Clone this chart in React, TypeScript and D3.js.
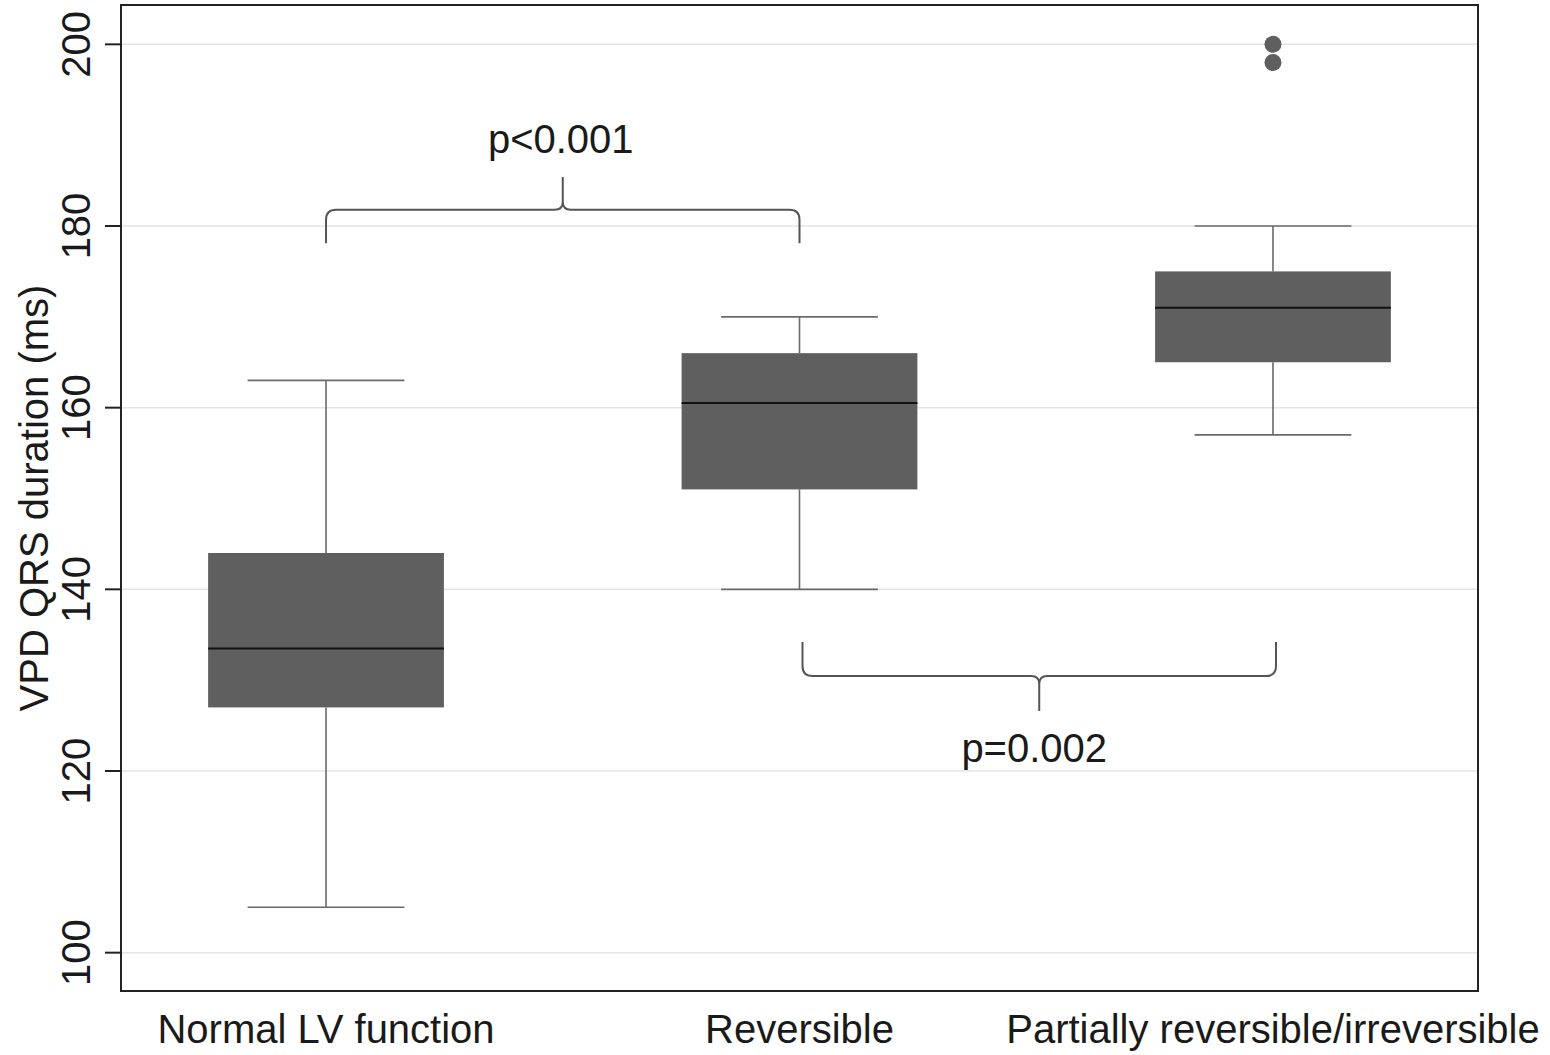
import React from "react";
import * as d3 from "d3";

const categories = ["Normal LV function", "Reversible", "Partially reversible/irreversible"];
const whiskerLow = [105, 140, 157];
const q1 = [127, 151, 165];
const median = [133.5, 160.5, 171];
const q3 = [144, 166, 175];
const whiskerHigh = [163, 170, 180];
const outliers = [[], [], [198, 200]];
const yTicks = [100, 120, 140, 160, 180, 200];

// comparison braces: [from category index, to category index, line level, end level, tip level, label]
const braceFrom = [0, 1];
const braceTo = [1, 2];
const braceLine = [181.8, 130.45];
const braceEnd = [178.1, 134.2];
const braceTip = [185.4, 126.6];
const braceLabel = ["p<0.001", "p=0.002"];
const braceLabelValue = [190.3, 131.2 - 8.5 - 1.0];

const W = 1550;
const H = 1055;
const left = 121, right = 1478, top = 5, bottom = 991;
const FONT = "'Liberation Sans', Arial, sans-serif";

export default function App() {
  const x = d3.scalePoint<string>().domain(categories).range([left, right]).padding(0.433);
  const y = d3.scaleLinear().domain([95.78, 204.33]).range([bottom, top]);
  const step = x.step();
  const boxW = step * 0.498;
  const capW = boxW * 0.665;

  const bracePath = (x1: number, x2: number, yl: number, ye: number, yt: number) => {
    const r = 10;
    const dirEnd = ye > yl ? 1 : -1; // ends direction relative to line
    const xm = (x1 + x2) / 2;
    const dirTip = yt > yl ? 1 : -1;
    const t = 8;
    return [
      `M${x1},${ye}`,
      `L${x1},${yl + dirEnd * r}`,
      `Q${x1},${yl} ${x1 + r},${yl}`,
      `L${xm - t},${yl}`,
      `Q${xm},${yl} ${xm},${yl + dirTip * t}`,
      `L${xm},${yt}`,
      `M${xm},${yl + dirTip * t}`,
      `Q${xm},${yl} ${xm + t},${yl}`,
      `L${x2 - r},${yl}`,
      `Q${x2},${yl} ${x2},${yl + dirEnd * r}`,
      `L${x2},${ye}`,
    ].join(" ");
  };

  return (
    <svg width={W} height={H} style={{ position: "absolute", left: 0, top: 0, background: "#fff" }}>
      <rect x={0} y={0} width={W} height={H} fill="#fff" />
      {/* grid */}
      {yTicks.map((t) => (
        <line key={"g" + t} x1={left} x2={right} y1={y(t)} y2={y(t)} stroke="#e4e4e4" strokeWidth={1.5} />
      ))}
      {/* boxes */}
      {categories.map((c, i) => {
        const cx = x(c)!;
        return (
          <g key={c}>
            <line x1={cx} x2={cx} y1={y(whiskerHigh[i])} y2={y(q3[i])} stroke="#6a6a6a" strokeWidth={1.6} />
            <line x1={cx} x2={cx} y1={y(q1[i])} y2={y(whiskerLow[i])} stroke="#6a6a6a" strokeWidth={1.6} />
            <line x1={cx - capW / 2} x2={cx + capW / 2} y1={y(whiskerHigh[i])} y2={y(whiskerHigh[i])} stroke="#6a6a6a" strokeWidth={1.6} />
            <line x1={cx - capW / 2} x2={cx + capW / 2} y1={y(whiskerLow[i])} y2={y(whiskerLow[i])} stroke="#6a6a6a" strokeWidth={1.6} />
            <rect x={cx - boxW / 2} y={y(q3[i])} width={boxW} height={y(q1[i]) - y(q3[i])} fill="#5f5f5f" />
            <line x1={cx - boxW / 2} x2={cx + boxW / 2} y1={y(median[i])} y2={y(median[i])} stroke="#111" strokeWidth={2} />
            {outliers[i].map((o, j) => (
              <circle key={j} cx={cx} cy={y(o)} r={8.5} fill="#5f5f5f" />
            ))}
          </g>
        );
      })}
      {/* braces */}
      {braceFrom.map((f, i) => {
        const x1 = x(categories[f])!;
        const x2 = x(categories[braceTo[i]])!;
        const xm = (x1 + x2) / 2;
        const above = braceTip[i] > braceLine[i];
        return (
          <g key={"b" + i}>
            <path
              d={bracePath(x1 + (i === 1 ? 3 : 0), x2 + (i === 1 ? 3 : 0), y(braceLine[i]), y(braceEnd[i]), y(braceTip[i]))}
              fill="none"
              stroke="#555"
              strokeWidth={2}
            />
            <text
              x={xm - 2}
              y={above ? y(braceTip[i]) - 24 : y(braceTip[i]) + 51}
              textAnchor="middle"
              fontFamily={FONT}
              fontSize={40}
              fill="#1a1a1a"
            >
              {braceLabel[i]}
            </text>
          </g>
        );
      })}
      {/* frame */}
      <rect x={left} y={top} width={right - left} height={bottom - top} fill="none" stroke="#222" strokeWidth={2} />
      {/* y ticks */}
      {yTicks.map((t) => (
        <g key={"t" + t}>
          <line x1={left - 16} x2={left} y1={y(t)} y2={y(t)} stroke="#222" strokeWidth={2} />
          <text
            transform={`translate(${90},${y(t)}) rotate(-90)`}
            textAnchor="middle"
            fontFamily={FONT}
            fontSize={40}
            fill="#1a1a1a"
          >
            {t}
          </text>
        </g>
      ))}
      {/* x labels */}
      {categories.map((c) => (
        <text key={"x" + c} x={x(c)!} y={1043} textAnchor="middle" fontFamily={FONT} fontSize={40} fill="#1a1a1a">
          {c}
        </text>
      ))}
      {/* y title */}
      <text
        transform={`translate(${48},${(top + bottom) / 2}) rotate(-90)`}
        textAnchor="middle"
        fontFamily={FONT}
        fontSize={40}
        fill="#1a1a1a"
      >
        VPD QRS duration (ms)
      </text>
    </svg>
  );
}
